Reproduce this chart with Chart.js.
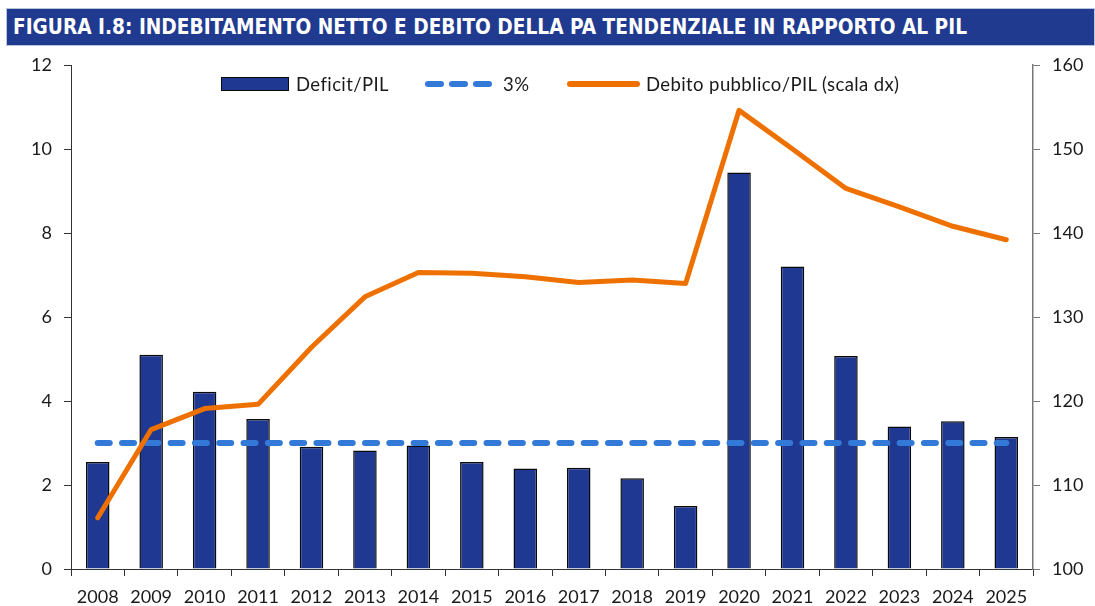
<!DOCTYPE html>
<html lang="it">
  <head>
    <meta charset="UTF-8" />
    <title>Figura I.8</title>
    <script src="https://cdn.jsdelivr.net/npm/chart.js@4.4.1/dist/chart.umd.min.js"></script>
    <style>
      html, body { margin: 0; padding: 0; background: #fff; }
      body { width: 1095px; height: 606px; position: relative; overflow: hidden; font-family: Lato, "Open Sans", sans-serif; }
      #title {
        position: absolute; left: 6px; top: 8px; width: 1089px; height: 38px;
        background: #1f3a8f; border: 1px solid #b9c4dd; box-sizing: border-box;
      }
      #title span {
        position: absolute; left: 6px; top: 5px; color: #fff; white-space: nowrap;
        font-family: "Liberation Sans Narrow", "DejaVu Sans Condensed", sans-serif;
        font-weight: bold; font-size: 22px; line-height: 26px; transform-origin: left center;
      }
      #chart { position: absolute; left: 0; top: 0; }
      .leg { position: absolute; font-size: 18.5px; letter-spacing: 0.4px; color: #1a1a1a; line-height: 20px; top: 74px; }
      .sw { position: absolute; }
    </style>
  </head>
  <body>
    <canvas id="chart" width="1095" height="606"></canvas>
    <div id="title"><span id="titleText">FIGURA I.8: INDEBITAMENTO NETTO E DEBITO DELLA PA TENDENZIALE IN RAPPORTO AL PIL</span></div>

    <!-- legenda -->
    <div class="sw" style="left:221px;top:77px;width:68px;height:14px;background:#1f3891;border:1.5px solid #0a0a0a;box-sizing:border-box"></div>
    <div class="leg" style="left:296px">Deficit/PIL</div>
    <div class="sw" style="left:425px;top:81px;width:19px;height:6px;border-radius:3px;background:#3279d8"></div>
    <div class="sw" style="left:449px;top:81px;width:19px;height:6px;border-radius:3px;background:#3279d8"></div>
    <div class="sw" style="left:473px;top:81px;width:19px;height:6px;border-radius:3px;background:#3279d8"></div>
    <div class="leg" style="left:503px">3%</div>
    <div class="sw" style="left:567px;top:81px;width:73px;height:6px;border-radius:3px;background:#ee7100"></div>
    <div class="leg" style="left:646px">Debito pubblico/PIL (scala dx)</div>

    <script>
      const anni = ["2008", "2009", "2010", "2011", "2012", "2013", "2014", "2015", "2016",
                    "2017", "2018", "2019", "2020", "2021", "2022", "2023", "2024", "2025"];
      const deficitPil = [2.55, 5.1, 4.22, 3.57, 2.91, 2.82, 2.94, 2.55, 2.39,
                          2.41, 2.16, 1.5, 9.44, 7.2, 5.07, 3.39, 3.52, 3.14];
      const soglia = anni.map(() => 3);
      const debitoPil = [106.1, 116.6, 119.1, 119.6, 126.4, 132.4, 135.3, 135.2, 134.8,
                         134.1, 134.4, 134.0, 154.6, 150.0, 145.3, 143.1, 140.8, 139.2];
      const tickSx = [0, 2, 4, 6, 8, 10, 12];
      const tickDx = [100, 110, 120, 130, 140, 150, 160];

      // allarga il titolo fino alla larghezza dell'originale
      const t = document.getElementById("titleText");
      t.style.transform = "scaleX(" + (954 / t.getBoundingClientRect().width) + ")";

      const font = { family: "Lato, 'Open Sans', sans-serif", size: 18 };

      new Chart(document.getElementById("chart"), {
        type: "bar",
        data: {
          labels: anni,
          datasets: [
            {
              label: "Debito pubblico/PIL (scala dx)",
              type: "line",
              data: debitoPil,
              yAxisID: "y1",
              borderColor: "#ee7100",
              borderWidth: 5,
              borderCapStyle: "round",
              borderJoinStyle: "round",
              pointRadius: 0,
              tension: 0,
              order: 0
            },
            {
              label: "3%",
              type: "line",
              data: soglia,
              yAxisID: "y",
              borderColor: "#3279d8",
              borderWidth: 6,
              borderDash: [12, 12.3],
              borderCapStyle: "round",
              pointRadius: 0,
              order: 1
            },
            {
              label: "Deficit/PIL",
              data: deficitPil,
              yAxisID: "y",
              backgroundColor: "#1f3891",
              borderColor: "#0a0a0a",
              borderWidth: 1.5,
              barPercentage: 0.44,
              categoryPercentage: 1,
              order: 2
            }
          ]
        },
        options: {
          responsive: false,
          devicePixelRatio: 1,
          animation: false,
          layout: { padding: { top: 65, left: 0, right: 0, bottom: 0 } },
          plugins: { legend: { display: false }, tooltip: { enabled: false } },
          scales: {
            x: {
              grid: { drawOnChartArea: false, drawTicks: true, tickLength: 7, color: "#333", offset: true },
              border: { color: "#333", width: 1 },
              ticks: { font: font, color: "#1a1a1a", padding: 10, maxRotation: 0, autoSkip: false },
              afterFit: (s) => { s.height = 37; }
            },
            y: {
              position: "left",
              min: 0,
              max: 12,
              afterBuildTicks: (s) => { s.ticks = tickSx.map((v) => ({ value: v })); },
              grid: { drawOnChartArea: false, tickLength: 7, color: "#333" },
              border: { color: "#333", width: 1 },
              ticks: { font: font, color: "#1a1a1a", padding: 12 },
              afterFit: (s) => { s.width = 71; }
            },
            y1: {
              position: "right",
              min: 100,
              max: 160,
              afterBuildTicks: (s) => { s.ticks = tickDx.map((v) => ({ value: v })); },
              grid: { drawOnChartArea: false, tickLength: 7, color: "#777" },
              border: { color: "#777", width: 1.5 },
              ticks: { font: font, color: "#1a1a1a", padding: 12 },
              afterFit: (s) => { s.width = 62; }
            }
          }
        }
      });
    </script>
  </body>
</html>
